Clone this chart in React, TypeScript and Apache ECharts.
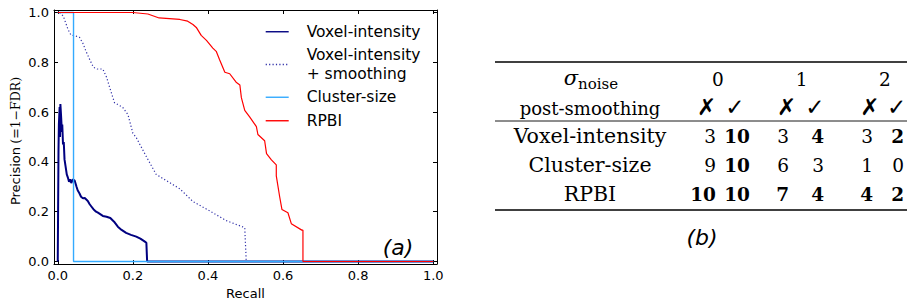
import React, { useEffect, useRef } from "react";
import * as echarts from "echarts";

const recallTicks = [0, 0.2, 0.4, 0.6, 0.8, 1.0];
const precisionTicks = [0, 0.2, 0.4, 0.6, 0.8, 1.0];

const seriesNames = ["Voxel-intensity", "Voxel-intensity + smoothing", "Cluster-size", "RPBI"];

const voxelIntensity: [number, number][] = [
  [0, 0], [0.002, 0.45], [0.003, 0.55], [0.005, 0.62], [0.006, 0.5], [0.007, 0.632], [0.009, 0.58],
  [0.011, 0.52], [0.012, 0.55], [0.014, 0.47], [0.016, 0.48], [0.018, 0.41], [0.021, 0.38],
  [0.024, 0.35], [0.027, 0.337], [0.03, 0.32], [0.033, 0.33], [0.036, 0.315], [0.04, 0.33],
  [0.045, 0.325], [0.05, 0.3], [0.053, 0.286], [0.058, 0.273], [0.062, 0.26], [0.067, 0.254],
  [0.072, 0.255], [0.08, 0.243], [0.085, 0.23], [0.089, 0.222], [0.095, 0.21], [0.102, 0.2],
  [0.107, 0.196], [0.115, 0.188], [0.12, 0.183], [0.13, 0.18], [0.14, 0.175], [0.15, 0.16],
  [0.16, 0.14], [0.17, 0.127], [0.182, 0.115], [0.195, 0.107], [0.209, 0.1], [0.22, 0.092],
  [0.23, 0.082], [0.236, 0.075], [0.238, 0.0], [1.0, 0.0],
];

const voxelSmoothing: [number, number][] = [
  [0.005, 1.0], [0.015, 0.985], [0.027, 0.933], [0.035, 0.91], [0.049, 0.905], [0.058, 0.9],
  [0.067, 0.876], [0.075, 0.845], [0.087, 0.805], [0.095, 0.78], [0.105, 0.773], [0.12, 0.773],
  [0.13, 0.74], [0.138, 0.7], [0.151, 0.638], [0.173, 0.619], [0.187, 0.59], [0.2, 0.515],
  [0.209, 0.498], [0.218, 0.472], [0.236, 0.421], [0.262, 0.35], [0.289, 0.325], [0.325, 0.292],
  [0.36, 0.241], [0.405, 0.203], [0.449, 0.164], [0.498, 0.136], [0.502, 0.0], [1.0, 0.0],
];

const clusterSize: [number, number][] = [
  [0, 1.0], [0.042, 1.0], [0.042, 0.0], [1.0, 0.0],
];

const rpbi: [number, number][] = [
  [0, 1.0], [0.2, 1.0], [0.24, 0.994], [0.27, 0.978], [0.325, 0.972], [0.346, 0.965],
  [0.36, 0.952], [0.369, 0.94], [0.382, 0.908], [0.396, 0.888], [0.413, 0.857], [0.422, 0.844],
  [0.431, 0.81], [0.445, 0.76], [0.458, 0.754], [0.475, 0.72], [0.485, 0.709], [0.489, 0.658],
  [0.498, 0.607], [0.511, 0.581], [0.529, 0.542], [0.533, 0.51], [0.551, 0.485], [0.556, 0.433],
  [0.569, 0.408], [0.582, 0.388], [0.582, 0.344], [0.591, 0.26], [0.597, 0.209], [0.613, 0.196],
  [0.622, 0.152], [0.65, 0.126], [0.653, 0.126], [0.653, 0.0], [1.0, 0.0],
];

const noiseLevels = ["0", "1", "2"];
const smoothingMarks = ["✗", "✓", "✗", "✓", "✗", "✓"];
const tableMethods = ["Voxel-intensity", "Cluster-size", "RPBI"];
const tableValues = [
  [3, 10, 3, 4, 3, 2],
  [9, 10, 6, 3, 1, 0],
  [10, 10, 7, 4, 4, 2],
];
const tableBold = [
  [false, true, false, true, false, true],
  [false, true, false, false, false, false],
  [true, true, true, true, true, true],
];

const SERIF = "DejaVu Serif";
const SANS = "DejaVu Sans";

function buildTable(): any[] {
  const els: any[] = [];
  const ruleL = 495;
  const ruleR = 907;
  const rule = (y: number, w: number) => ({
    type: "line",
    shape: { x1: ruleL, y1: y, x2: ruleR, y2: y },
    style: { stroke: "#000", lineWidth: w },
  });
  els.push(rule(62, 1.4), rule(121, 0.9), rule(210, 1.4));

  const labelX = 590;
  const rowY = [136, 165, 194];
  els.push({
    type: "text", x: 571, y: 78,
    style: { text: "σ", font: `italic 21px '${SERIF}'`, fill: "#000", align: "center", verticalAlign: "middle" },
  });
  els.push({
    type: "text", x: 578, y: 84,
    style: { text: "noise", font: `15px '${SERIF}'`, fill: "#000", align: "left", verticalAlign: "middle" },
  });
  els.push({
    type: "text", x: labelX, y: 108,
    style: { text: "post-smoothing", font: `18px '${SERIF}'`, fill: "#000", align: "center", verticalAlign: "middle" },
  });
  const levelX = [718, 801.7, 885];
  noiseLevels.forEach((t, i) => {
    els.push({
      type: "text", x: levelX[i], y: 79,
      style: { text: t, font: `18.5px '${SERIF}'`, fill: "#000", align: "center", verticalAlign: "middle" },
    });
  });
  const markX = [706.7, 735, 786.7, 815, 870, 896.7];
  smoothingMarks.forEach((t, i) => {
    els.push({
      type: "text", x: markX[i], y: 107,
      style: { text: t, font: `23px '${SANS}'`, fill: "#000", align: "center", verticalAlign: "middle" },
    });
  });
  const colRight = [716, 750, 789, 824, 873, 904];
  tableMethods.forEach((m, r) => {
    els.push({
      type: "text", x: labelX, y: rowY[r],
      style: { text: m, font: `20.5px '${SERIF}'`, fill: "#000", align: "center", verticalAlign: "middle" },
    });
    tableValues[r].forEach((v, c) => {
      els.push({
        type: "text", x: colRight[c], y: rowY[r],
        style: {
          text: String(v),
          font: `${tableBold[r][c] ? "bold " : ""}18.5px '${SERIF}'`,
          fill: "#000", align: "right", verticalAlign: "middle",
        },
      });
    });
  });
  els.push({
    type: "text", x: 702, y: 237,
    style: { text: "(b)", font: `italic 22px '${SANS}'`, fill: "#000", align: "center", verticalAlign: "middle" },
  });
  return els;
}

function axisStyle(pos: string, ticks: number[], showLabel: boolean) {
  return {
    type: "value",
    min: -0.01,
    max: 1.01,
    position: pos,
    axisLine: { show: true, onZero: false, lineStyle: { color: "#000", width: 1 } },
    axisTick: { show: true, inside: true, length: 4, customValues: ticks, lineStyle: { color: "#000", width: 1 } },
    axisLabel: {
      show: showLabel,
      customValues: ticks,
      formatter: (v: number) => v.toFixed(1),
      fontFamily: SANS,
      fontSize: 13,
      color: "#000",
      margin: 5,
    },
    splitLine: { show: false },
  };
}

export default function App() {
  const ref = useRef<HTMLDivElement>(null);
  useEffect(() => {
    const chart = echarts.init(ref.current!, null, { renderer: "svg" });
    const xBottom: any = {
      ...axisStyle("bottom", recallTicks, true),
      name: "Recall",
      nameLocation: "middle",
      nameGap: 23,
      nameTextStyle: { fontFamily: SANS, fontSize: 13, color: "#000" },
    };
    const option: any = {
      animation: false,
      backgroundColor: "#fff",
      grid: { left: 54, top: 10, width: 383, height: 265, containLabel: false },
      xAxis: [xBottom, axisStyle("top", recallTicks, false)],
      yAxis: [axisStyle("left", precisionTicks, true), axisStyle("right", precisionTicks, false)],
      legend: {
        orient: "vertical",
        left: 265,
        top: 22.5,
        padding: 0,
        itemGap: 5,
        itemWidth: 23,
        itemHeight: 14,
        data: seriesNames,
        itemStyle: { opacity: 0 },
        lineStyle: { width: 1.4 },
        formatter: (name: string) => (name === seriesNames[1] ? "Voxel-intensity\n+ smoothing" : name),
        textStyle: { fontFamily: SANS, fontSize: 15.5, lineHeight: 18.5, color: "#000", padding: [0, 0, 0, 13] },
      },
      series: [
        {
          name: seriesNames[0], type: "line", data: voxelIntensity, symbol: "none", showSymbol: false,
          lineStyle: { color: "#000080", width: 2 }, itemStyle: { color: "#000080" }, z: 2,
        },
        {
          name: seriesNames[1], type: "line", data: voxelSmoothing, symbol: "none", showSymbol: false,
          lineStyle: { color: "#3030a8", width: 1.2, type: [1.2, 2.2] }, itemStyle: { color: "#3030a8" }, z: 3,
        },
        {
          name: seriesNames[2], type: "line", data: clusterSize, symbol: "none", showSymbol: false,
          lineStyle: { color: "#33aaff", width: 1.4 }, itemStyle: { color: "#33aaff" }, z: 4,
        },
        {
          name: seriesNames[3], type: "line", data: rpbi, symbol: "none", showSymbol: false,
          lineStyle: { color: "#ff0000", width: 1.2 }, itemStyle: { color: "#ff0000" }, z: 5,
        },
      ],
      graphic: [
        {
          type: "text", x: 15, y: 141, rotation: Math.PI / 2,
          style: {
            text: "{a|Precision} {b|(=1−FDR)}",
            align: "center", verticalAlign: "middle", fill: "#000",
            rich: {
              a: { fontFamily: SANS, fontSize: 13, fill: "#000" },
              b: { fontFamily: SERIF, fontSize: 12.5, fill: "#000" },
            },
          },
        },
        {
          type: "text", x: 398, y: 247,
          style: { text: "(a)", font: `italic 22px '${SANS}'`, fill: "#000", align: "center", verticalAlign: "middle" },
        },
        ...buildTable(),
      ],
    };
    chart.setOption(option);
    return () => chart.dispose();
  }, []);
  return <div ref={ref} style={{ position: "absolute", left: 0, top: 0, width: 910, height: 305 }} />;
}
